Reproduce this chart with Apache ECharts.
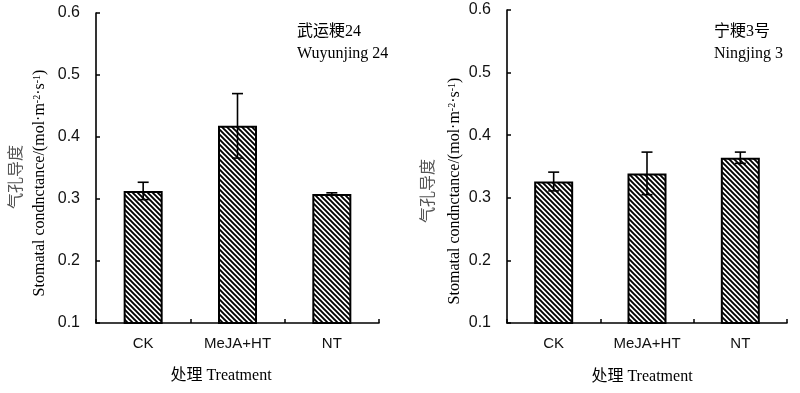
<!DOCTYPE html>
<html>
<head>
<meta charset="utf-8">
<script src="https://cdn.jsdelivr.net/npm/echarts@6/dist/echarts.min.js"></script>
<style>
html,body{margin:0;padding:0;background:#fff;}
#chart{width:800px;height:393px;}
</style>
</head>
<body>
<div id="chart"></div>
<script>
// ---- data ----
const categories = ['CK', 'MeJA+HT', 'NT'];
const wuyunjingMean = [0.313, 0.418, 0.308];
const wuyunjingErr = [0.014, 0.052, 0.002];
const ningjingMean = [0.326, 0.339, 0.364];
const ningjingErr = [0.015, 0.034, 0.009];
const yTicks = [0.1, 0.2, 0.3, 0.4, 0.5, 0.6];
const titleLeftCn = '武运粳24';
const titleLeftEn = 'Wuyunjing 24';
const titleRightCn = '宁粳3号';
const titleRightEn = 'Ningjing 3';
const yNameCn = '气孔导度';
const xNameText = '处理 Treatment';

function makeHatch() {
  const s = 5;
  const c = document.createElement('canvas');
  c.width = s; c.height = s;
  const ctx = c.getContext('2d');
  ctx.fillStyle = '#fff';
  ctx.fillRect(0, 0, s, s);
  ctx.strokeStyle = '#000';
  ctx.lineWidth = 1.9;
  ctx.beginPath();
  ctx.moveTo(-1, -1); ctx.lineTo(s + 1, s + 1);
  ctx.moveTo(-1, s - 1); ctx.lineTo(1, s + 1);
  ctx.moveTo(s - 1, -1); ctx.lineTo(s + 1, 1);
  ctx.stroke();
  return c;
}
const hatch = { image: makeHatch(), repeat: 'repeat' };

function errData(mean, err) {
  return mean.map((m, i) => [i, m - err[i], m + err[i]]);
}

function renderErr(params, api) {
  const x = api.value(0);
  const lo = api.coord([x, api.value(1)]);
  const hi = api.coord([x, api.value(2)]);
  const hw = 5.5;
  const style = { stroke: '#000', lineWidth: 1.6, fill: null };
  return {
    type: 'group',
    children: [
      { type: 'line', shape: { x1: lo[0], y1: lo[1], x2: hi[0], y2: hi[1] }, style },
      { type: 'line', shape: { x1: hi[0] - hw, y1: hi[1], x2: hi[0] + hw, y2: hi[1] }, style },
      { type: 'line', shape: { x1: lo[0] - hw, y1: lo[1], x2: lo[0] + hw, y2: lo[1] }, style }
    ]
  };
}

const sans = 'Liberation Sans, Arial, sans-serif';
const serif = '"Liberation Serif", "Times New Roman", "Noto Sans CJK SC", serif';

function yAxisCfg(gi) {
  return {
    gridIndex: gi, type: 'value',
    min: yTicks[0], max: yTicks[yTicks.length - 1], interval: 0.1,
    axisLine: { show: true, onZero: false, lineStyle: { color: '#000', width: 1.6 } },
    axisTick: { show: true, inside: true, length: 4, lineStyle: { color: '#000', width: 1.5 } },
    splitLine: { show: false },
    axisLabel: { margin: 16, color: '#111', fontFamily: sans, fontSize: 16, formatter: v => v.toFixed(1) }
  };
}
function xAxisCfg(gi) {
  return {
    gridIndex: gi, type: 'category', data: categories,
    axisLine: { show: true, onZero: false, lineStyle: { color: '#000', width: 1.6 } },
    axisTick: { show: true, inside: true, length: 4, lineStyle: { color: '#000', width: 1.5 } },
    axisLabel: { margin: 13, color: '#111', fontFamily: sans, fontSize: 15 }
  };
}
function barSeries(gi, data) {
  return {
    type: 'bar', xAxisIndex: gi, yAxisIndex: gi, data: data, barWidth: 39,
    itemStyle: { color: hatch, borderColor: '#000', borderWidth: 2 },
    clip: true, silent: true, z: 2
  };
}
function errSeries(gi, mean, err) {
  return {
    type: 'custom', xAxisIndex: gi, yAxisIndex: gi, data: errData(mean, err),
    renderItem: renderErr, encode: { x: 0, y: [1, 2] }, silent: true, z: 5
  };
}

const yNameRich = {
  n: { fontFamily: serif, fontSize: 16, color: '#000' },
  sup: { fontFamily: serif, fontSize: 10, color: '#000', verticalAlign: 'top' }
};
const yNameEnText = '{n|Stomatal condnctance/(mol·m}{sup|-2}{n|·s}{sup|-1}{n|)}';

function yNameGraphics(xCn, yCn, xEn, yEn) {
  return [
    { type: 'text', x: xCn, y: yCn, rotation: Math.PI / 2,
      style: { text: yNameCn, font: '16px "Noto Sans CJK SC"', fill: '#555', align: 'center', verticalAlign: 'middle' } },
    { type: 'text', x: xEn, y: yEn, rotation: Math.PI / 2,
      style: { text: yNameEnText, rich: yNameRich, align: 'center', verticalAlign: 'middle' } }
  ];
}
function titleGraphics(x, cn, en) {
  return [
    { type: 'text', x: x, y: 32, style: { text: cn, font: '16px ' + serif, fill: '#000', align: 'left', verticalAlign: 'middle' } },
    { type: 'text', x: x, y: 54, style: { text: en, font: '16px ' + serif, fill: '#000', align: 'left', verticalAlign: 'middle' } }
  ];
}
function xNameGraphic(x, y) {
  return { type: 'text', x: x, y: y, style: { text: xNameText, font: '16px ' + serif, fill: '#000', align: 'center', verticalAlign: 'middle' } };
}

const chart = echarts.init(document.getElementById('chart'), null, { renderer: 'canvas' });
chart.setOption({
  animation: false,
  backgroundColor: '#fff',
  grid: [
    { left: 96, top: 13, width: 283, height: 310 },
    { left: 507, top: 10, width: 280, height: 313 }
  ],
  xAxis: [xAxisCfg(0), xAxisCfg(1)],
  yAxis: [yAxisCfg(0), yAxisCfg(1)],
  series: [
    barSeries(0, wuyunjingMean),
    errSeries(0, wuyunjingMean, wuyunjingErr),
    barSeries(1, ningjingMean),
    errSeries(1, ningjingMean, ningjingErr)
  ],
  graphic: [
    ...yNameGraphics(15, 177, 40, 183),
    ...yNameGraphics(427, 191, 455, 191),
    ...titleGraphics(297, titleLeftCn, titleLeftEn),
    ...titleGraphics(714, titleRightCn, titleRightEn),
    xNameGraphic(221, 376),
    xNameGraphic(642, 377)
  ]
});
</script>
</body>
</html>
